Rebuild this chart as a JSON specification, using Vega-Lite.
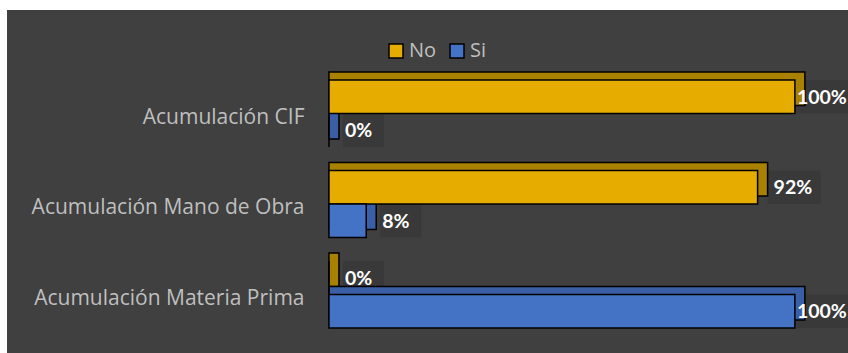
{
  "$schema": "https://vega.github.io/schema/vega-lite/v6.json",
  "autosize": "none",
  "width": 841,
  "height": 343,
  "padding": {"left": 7, "top": 10, "right": 0, "bottom": 0},
  "background": "white",
  "config": {
    "view": {"fill": "#404040", "stroke": null},
    "font": "Open Sans"
  },
  "data": {
    "values": [
      {"item": "Acumulación CIF", "serie": "No", "value": 1.0, "label": "100%"},
      {"item": "Acumulación CIF", "serie": "Si", "value": 0.0, "label": "0%"},
      {"item": "Acumulación Mano de Obra", "serie": "No", "value": 0.92, "label": "92%"},
      {"item": "Acumulación Mano de Obra", "serie": "Si", "value": 0.08, "label": "8%"},
      {"item": "Acumulación Materia Prima", "serie": "No", "value": 0.0, "label": "0%"},
      {"item": "Acumulación Materia Prima", "serie": "Si", "value": 1.0, "label": "100%"}
    ]
  },
  "resolve": {"scale": {"color": "independent", "yOffset": "independent"}, "legend": {"color": "independent"}},
  "encoding": {
    "y": {
      "field": "item", "type": "nominal", "sort": null,
      "scale": {"paddingInner": 0.26, "paddingOuter": 0.525, "align": 0.737},
      "axis": {
        "title": null, "domain": false, "ticks": false, "tickSize": 0,
        "labelPadding": -297, "labelAlign": "right", "labelOffset": 4,
        "labelColor": "#BFBFBF", "labelFontSize": 21, "labelFont": "Open Sans", "labelLimit": 400
      }
    }
  },
  "layer": [
    {
      "transform": [{"filter": "datum.value < 1 && length(datum.label) == 2"}],
      "mark": {"type": "bar", "color": "#393939", "xOffset": 14, "x2Offset": 55},
      "encoding": {
        "x": {"field": "value", "type": "quantitative", "scale": {"domain": [-0.691, 1.114], "nice": false, "zero": false}, "axis": null},
        "x2": {"field": "value"},
        "yOffset": {"field": "serie", "type": "nominal", "sort": ["No", "Si"], "scale": {"domain": ["No", "Si"], "paddingInner": 0, "paddingOuter": 0}}
      }
    },
    {
      "transform": [{"filter": "datum.value < 1 && length(datum.label) == 3"}],
      "mark": {"type": "bar", "color": "#393939", "xOffset": 10, "x2Offset": 63},
      "encoding": {
        "x": {"field": "value", "type": "quantitative"},
        "x2": {"field": "value"},
        "yOffset": {"field": "serie", "type": "nominal", "sort": ["No", "Si"], "scale": {"domain": ["No", "Si"], "paddingInner": 0, "paddingOuter": 0}}
      }
    },
    {
      "transform": [{"filter": "datum.value >= 1"}],
      "mark": {"type": "bar", "color": "#393939", "xOffset": 0, "x2Offset": 70},
      "encoding": {
        "x": {"field": "value", "type": "quantitative"},
        "x2": {"field": "value"},
        "yOffset": {"field": "serie", "type": "nominal", "sort": ["No", "Si"], "scale": {"domain": ["No", "Si"], "paddingInner": 0, "paddingOuter": 0}}
      }
    },
    {
      "mark": {"type": "bar", "stroke": "black", "strokeWidth": 1.5, "xOffset": 10, "x2Offset": 0},
      "encoding": {
        "x": {"field": "value", "type": "quantitative"},
        "x2": {"datum": 0},
        "yOffset": {"field": "serie", "type": "nominal", "sort": ["No", "Si"], "scale": {"domain": ["No", "Si"], "paddingInner": 0, "paddingOuter": 0, "range": [-8, 59]}},
        "color": {"field": "serie", "type": "nominal", "scale": {"domain": ["No", "Si"], "range": ["#A98100", "#3A5FA6"]}, "legend": null}
      }
    },
    {
      "mark": {"type": "bar", "stroke": "black", "strokeWidth": 1.5},
      "encoding": {
        "x": {"field": "value", "type": "quantitative"},
        "x2": {"datum": 0},
        "yOffset": {"field": "serie", "type": "nominal", "sort": ["No", "Si"], "scale": {"domain": ["No", "Si"], "paddingInner": 0, "paddingOuter": 0}},
        "color": {
          "field": "serie", "type": "nominal",
          "scale": {"domain": ["No", "Si"], "range": ["#E6AC00", "#4472C4"]},
          "legend": {
            "title": null, "orient": "none", "legendX": 379, "legendY": 31, "direction": "horizontal",
            "symbolType": "square", "symbolSize": 196, "symbolStrokeColor": "black", "symbolStrokeWidth": 1.5,
            "labelColor": "#BFBFBF", "labelFontSize": 20, "labelFont": "Open Sans", "padding": 0, "columnPadding": 10, "labelOffset": 3
          }
        }
      }
    },
    {
      "transform": [{"filter": "datum.value < 1"}],
      "mark": {"type": "text", "align": "left", "baseline": "middle", "dx": 16, "dy": 1, "color": "white", "fontWeight": "bold", "fontSize": 19.5, "font": "Lato"},
      "encoding": {
        "x": {"field": "value", "type": "quantitative"},
        "yOffset": {"field": "serie", "type": "nominal", "sort": ["No", "Si"], "scale": {"type": "point", "domain": ["No", "Si"], "padding": 0.5}},
        "text": {"field": "label"}
      }
    },
    {
      "transform": [{"filter": "datum.value >= 1"}],
      "mark": {"type": "text", "align": "left", "baseline": "middle", "dx": 2, "dy": 1, "color": "white", "fontWeight": "bold", "fontSize": 19.5, "font": "Lato"},
      "encoding": {
        "x": {"field": "value", "type": "quantitative"},
        "yOffset": {"field": "serie", "type": "nominal", "sort": ["No", "Si"], "scale": {"type": "point", "domain": ["No", "Si"], "padding": 0.5}},
        "text": {"field": "label"}
      }
    }
  ]
}
